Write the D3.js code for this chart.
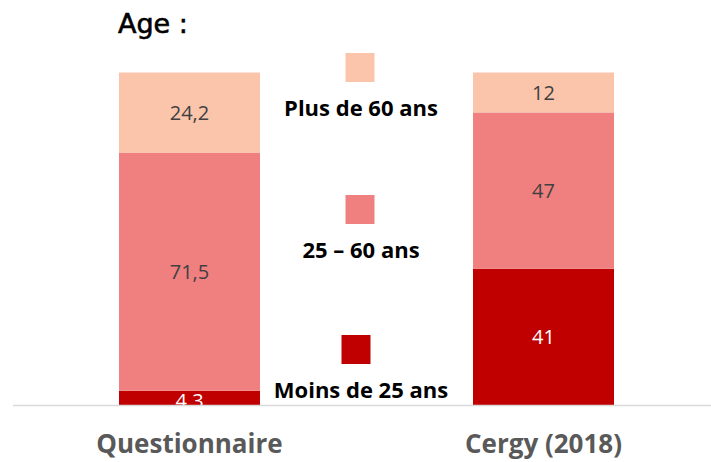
<!DOCTYPE html>
<html lang="fr">
<head>
  <meta charset="UTF-8" />
  <title>Age</title>
  <script src="https://d3js.org/d3.v7.min.js"></script>
  <style>
    body { margin: 0; background: white; }
    svg { display: block; }
    .val { font-family: "Open Sans", sans-serif; font-size: 20px; text-anchor: middle; dominant-baseline: central; }
    .cat { font-family: "Open Sans", sans-serif; font-weight: bold; font-size: 26px; fill: #595959; text-anchor: middle; }
    .leg { font-family: "Open Sans", sans-serif; font-weight: bold; font-size: 22px; fill: #000; text-anchor: middle; }
    .title { font-family: "DejaVu Sans", sans-serif; font-size: 27px; fill: #000; stroke: #000; stroke-width: 0.6px; }
  </style>
</head>
<body>
<svg id="chart" width="711" height="462"></svg>
<script>
// data
const categories = ["Questionnaire", "Cergy (2018)"];
const groups = ["Moins de 25 ans", "25 – 60 ans", "Plus de 60 ans"];
const under25 = [4.3, 41];
const mid = [71.5, 47];
const over60 = [24.2, 12];
const labels = [["4.3", "71,5", "24,2"], ["41", "47", "12"]];
const colors = ["#c00000", "#f08080", "#fbc5ac"];
const textColors = ["#ffffff", "#404040", "#404040"];

const svg = d3.select("#chart");
const W = 711, H = 462;
const barW = 141;

const x = d3.scalePoint().domain(categories).range([189.5, 543.5]);
const y = d3.scaleLinear().domain([0, 100]).range([405, 72.5]);

const rows = categories.map((c, i) => ({ cat: c, values: [under25[i], mid[i], over60[i]], labels: labels[i] }));

// stacked segments
rows.forEach(r => {
  let acc = 0;
  r.values.forEach((v, k) => {
    const y0 = y(acc), y1 = y(acc + v);
    svg.append("rect")
      .attr("x", x(r.cat) - barW / 2)
      .attr("y", y1)
      .attr("width", barW)
      .attr("height", y0 - y1)
      .attr("fill", colors[k]);
    acc += v;
  });
});

// value labels
rows.forEach(r => {
  let acc = 0;
  r.values.forEach((v, k) => {
    const cy = (y(acc) + y(acc + v)) / 2;
    svg.append("text")
      .attr("class", "val")
      .attr("x", x(r.cat))
      .attr("y", k === 0 && v < 6 ? cy + 3 : cy)
      .attr("fill", textColors[k])
      .text(r.labels[k]);
    acc += v;
  });
});

// axis line
svg.append("line")
  .attr("x1", 13).attr("x2", W)
  .attr("y1", y(0) + 0.5).attr("y2", y(0) + 0.5)
  .attr("stroke", "#d9d9d9").attr("stroke-width", 1.5);

// category labels
svg.selectAll(".cat").data(categories).join("text")
  .attr("class", "cat")
  .attr("x", d => x(d))
  .attr("y", 453)
  .text(d => d);

// legend
const legX = 360;
const legTop = [335, 195, 53];
groups.forEach((g, k) => {
  svg.append("rect")
    .attr("x", legX - 14.5 + (k === 0 ? -4 : 0))
    .attr("y", legTop[k])
    .attr("width", 29).attr("height", 29)
    .attr("fill", colors[k]);
  svg.append("text")
    .attr("class", "leg")
    .attr("x", legX + 1)
    .attr("y", legTop[k] + 63)
    .text(g);
});

svg.append("text")
  .attr("class", "title")
  .attr("x", 118)
  .attr("y", 33)
  .text("Age :");
</script>
</body>
</html>
